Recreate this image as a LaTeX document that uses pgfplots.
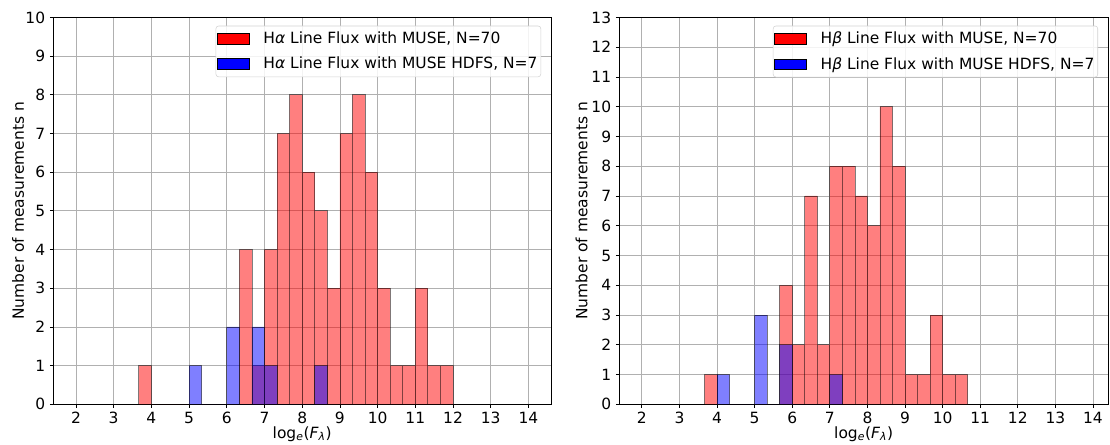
\documentclass[border=0pt]{standalone}
\usepackage{pgfplots}
\pgfplotsset{compat=1.18}
\usepackage{fontspec}
\setmainfont{DejaVu Sans}
\definecolor{gridgray}{RGB}{176,176,176}
\definecolor{legframe}{RGB}{210,210,210}
\pgfplotsset{
 hist/.style={
  scale only axis, height=290.1pt, xmin=1.4, ymin=0,
  axis line style={line width=0.6pt},
  xtick={2,...,14},
  grid=major, major grid style={gridgray, line width=0.6pt},
  tick align=outside, xtick pos=bottom, ytick pos=left,
  major tick length=2.6pt, tick style={black, line width=0.6pt},
  /pgf/number format/assume math mode=true,
  xlabel={log\textsubscript{\itshape e}({\itshape F}\textsubscript{\itshape λ})},
  ylabel={Number of measurements n},
  xlabel style={at={(axis description cs:0.5,0)}, anchor=center, yshift=-22.3pt},
  legend style={at={(rel axis cs:1,1)}, anchor=north east, xshift=-7.5pt, yshift=-6.2pt,
    draw=legframe, rounded corners=2pt, fill=white, fill opacity=0.85, text opacity=1,
    row sep=4.5pt, inner xsep=0.5pt, inner ysep=2.5pt,
    /tikz/every odd column/.append style={column sep=8.5pt}},
  legend cell align=left,
 },
 redbar/.style={ybar interval, fill=red, fill opacity=0.5, draw=black, draw opacity=0.5, line width=0.6pt, forget plot},
 bluebar/.style={ybar interval, fill=blue, fill opacity=0.5, draw=black, draw opacity=0.5, line width=0.6pt, forget plot},
}
\begin{document}
\begin{tikzpicture}[font=\fontsize{11.6}{13.9}\selectfont]
\path[use as bounding box] (0,0) rectangle (832.5pt,333pt);
% ---------------- left panel: H alpha ----------------
\begin{axis}[hist, at={(40pt,29.8pt)}, anchor=south west, width=373.3pt,
  xmax=14.6, ymax=10, ytick={0,...,10},
  ylabel style={at={(axis description cs:-0.071,0.5)}, anchor=center},
  legend entries={H{\itshape α} Line Flux with MUSE{,} N=70, H{\itshape α} Line Flux with MUSE HDFS{,} N=7}]
\addlegendimage{legend image code/.code={\draw[sharp corners,fill=red,fill opacity=1,draw=black,draw opacity=1,line width=0.6pt] (0pt,-3.9pt) rectangle (24pt,3.9pt);}}
\addlegendimage{legend image code/.code={\draw[sharp corners,fill=blue,fill opacity=1,draw=black,draw opacity=1,line width=0.6pt] (0pt,-3.9pt) rectangle (24pt,3.9pt);}}
\addplot[redbar] coordinates {
(3.6667,1) (4.0,0) (4.3333,0) (4.6667,0) (5.0,0) (5.3333,0) (5.6667,0) (6.0,0)
(6.3333,4) (6.6667,1) (7.0,4) (7.3333,7) (7.6667,8) (8.0,6) (8.3333,5) (8.6667,3)
(9.0,7) (9.3333,8) (9.6667,6) (10.0,3) (10.3333,1) (10.6667,1) (11.0,3) (11.3333,1)
(11.6667,1) (12.0,1)};
\addplot[bluebar] coordinates {
(5.0,1) (5.3333,0) (5.6667,0) (6.0,2) (6.3333,0) (6.6667,2) (7.0,1) (7.3333,0)
(7.6667,0) (8.0,0) (8.3333,1) (8.6667,1)};
\end{axis}
% ---------------- right panel: H beta ----------------
\begin{axis}[hist, at={(464.5pt,29.8pt)}, anchor=south west, width=366.5pt,
  xmax=14.4, ymax=13, ytick={0,...,13},
  ylabel style={at={(axis description cs:-0.077,0.5)}, anchor=center},
  legend entries={H{\itshape β} Line Flux with MUSE{,} N=70, H{\itshape β} Line Flux with MUSE HDFS{,} N=7}]
\addlegendimage{legend image code/.code={\draw[sharp corners,fill=red,fill opacity=1,draw=black,draw opacity=1,line width=0.6pt] (0pt,-3.9pt) rectangle (24pt,3.9pt);}}
\addlegendimage{legend image code/.code={\draw[sharp corners,fill=blue,fill opacity=1,draw=black,draw opacity=1,line width=0.6pt] (0pt,-3.9pt) rectangle (24pt,3.9pt);}}
\addplot[redbar] coordinates {
(3.6667,1) (4.0,0) (4.3333,0) (4.6667,0) (5.0,0) (5.3333,0) (5.6667,4) (6.0,2)
(6.3333,7) (6.6667,2) (7.0,8) (7.3333,8) (7.6667,7) (8.0,6) (8.3333,10) (8.6667,8)
(9.0,1) (9.3333,1) (9.6667,3) (10.0,1) (10.3333,1) (10.6667,1)};
\addplot[bluebar] coordinates {
(4.0,1) (4.3333,0) (4.6667,0) (5.0,3) (5.3333,0) (5.6667,2) (6.0,0) (6.3333,0)
(6.6667,0) (7.0,1) (7.3333,1)};
\end{axis}
\end{tikzpicture}
\end{document}
